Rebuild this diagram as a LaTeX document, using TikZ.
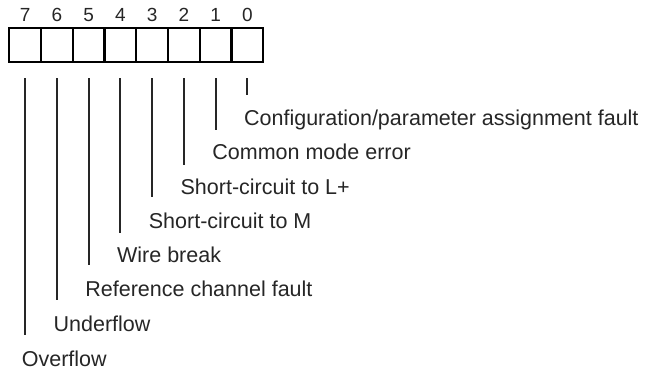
\documentclass[tikz,border=0pt]{standalone}
\usepackage{fontspec}
\setmainfont{Liberation Sans}
\begin{document}
\begin{tikzpicture}[x=1pt,y=-1pt,
  cell/.style={draw=black,line width=2.2pt,minimum width=31.75pt,minimum height=33.4pt,inner sep=0pt,outer sep=0pt},
  digit/.style={anchor=base,inner sep=0pt,font=\fontsize{19}{22}\selectfont,text=black!85},
  lbl/.style={anchor=base west,inner sep=0pt,font=\fontsize{21.5}{25}\selectfont,text=black!85},
  conn/.style={draw=black!85,line width=2pt}]
\useasboundingbox[fill=white] (0,0) rectangle (647,373);
\foreach \i in {0,...,7}{
  \pgfmathsetmacro{\cx}{25.2+(7-\i)*31.75}
  \node[cell] (c\i) at (\cx,45) {};
  \node[digit] (d\i) at (\cx,21) {\i};
}
% connectors
\foreach \i/\e in {0/95,1/130,2/165,3/197,4/233,5/265,6/300,7/335}{
  \pgfmathsetmacro{\cx}{25.2+(7-\i)*31.75}
  \coordinate (t\i) at (\cx,78);
  \coordinate (e\i) at (\cx,\e);
  \draw[conn] (t\i) -- (e\i);
}
\node[lbl] (l0) at ([xshift=-3.5pt]e0 |- 0,125) {Configuration/parameter assignment fault};
\node[lbl] (l1) at ([xshift=-3.5pt]e1 |- 0,159.5) {Common mode error};
\node[lbl] (l2) at ([xshift=-3.5pt]e2 |- 0,194) {Short-circuit to L+};
\node[lbl] (l3) at ([xshift=-3.5pt]e3 |- 0,228) {Short-circuit to M};
\node[lbl] (l4) at ([xshift=-3.5pt]e4 |- 0,262) {Wire break};
\node[lbl] (l5) at ([xshift=-3.5pt]e5 |- 0,296) {Reference channel fault};
\node[lbl] (l6) at ([xshift=-3.5pt]e6 |- 0,331) {Underflow};
\node[lbl] (l7) at ([xshift=-3.5pt]e7 |- 0,366.5) {Overflow};
\end{tikzpicture}
\end{document}
